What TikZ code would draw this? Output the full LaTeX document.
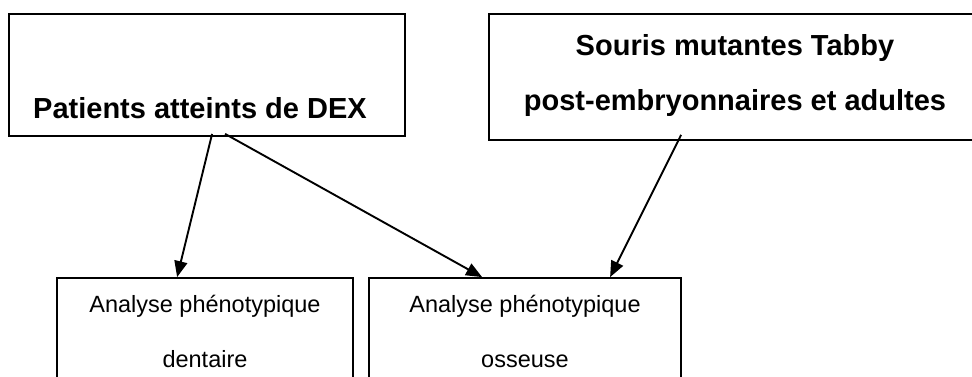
\documentclass[tikz,border=0pt]{standalone}
\usepackage{fontspec}
\setmainfont{Liberation Sans}
\usetikzlibrary{arrows.meta}
\begin{document}
\begin{tikzpicture}[x=1pt,y=-1pt,
  box/.style={draw=black,line width=1.8pt,rectangle,inner sep=0pt},
  big/.style={font=\fontsize{29}{34}\selectfont\bfseries,anchor=base,inner sep=0pt},
  small/.style={font=\fontsize{23.5}{28}\selectfont,anchor=base,inner sep=0pt},
  arr/.style={line width=1.9pt,-{Triangle[length=16pt,width=13pt]}}]
\useasboundingbox (0,0) rectangle (972,376);
\clip (0,0) rectangle (972,376);
% boxes
\node[box,minimum width=396pt,minimum height=122pt] (A) at (207,75) {};
\node[box,minimum width=512pt,minimum height=126pt] (B) at (745,77) {};
\node[box,minimum width=296pt,minimum height=122pt] (C) at (205,339) {};
\node[box,minimum width=312pt,minimum height=122pt] (D) at (525,339) {};
% texts
\node[big] (tA) at (200,118) {Patients atteints de DEX};
\node[big] (tB1) at (735,55) {Souris mutantes Tabby};
\node[big] (tB2) at (735,110) {post-embryonnaires et adultes};
\node[small] (tC1) at (205,312) {Analyse phénotypique};
\node[small] (tC2) at (205,367) {dentaire};
\node[small] (tD1) at (525,312) {Analyse phénotypique};
\node[small] (tD2) at (525,367) {osseuse};
% connectors
\draw[arr] ([xshift=204pt,yshift=3pt]A.south west) -- ([xshift=121pt]C.north west);
\draw[arr] ([xshift=217pt,yshift=3pt]A.south west) -- ([xshift=114pt]D.north west);
\draw[arr] ([xshift=193pt,yshift=6pt]B.south west) -- ([xshift=242pt]D.north west);
\end{tikzpicture}
\end{document}
